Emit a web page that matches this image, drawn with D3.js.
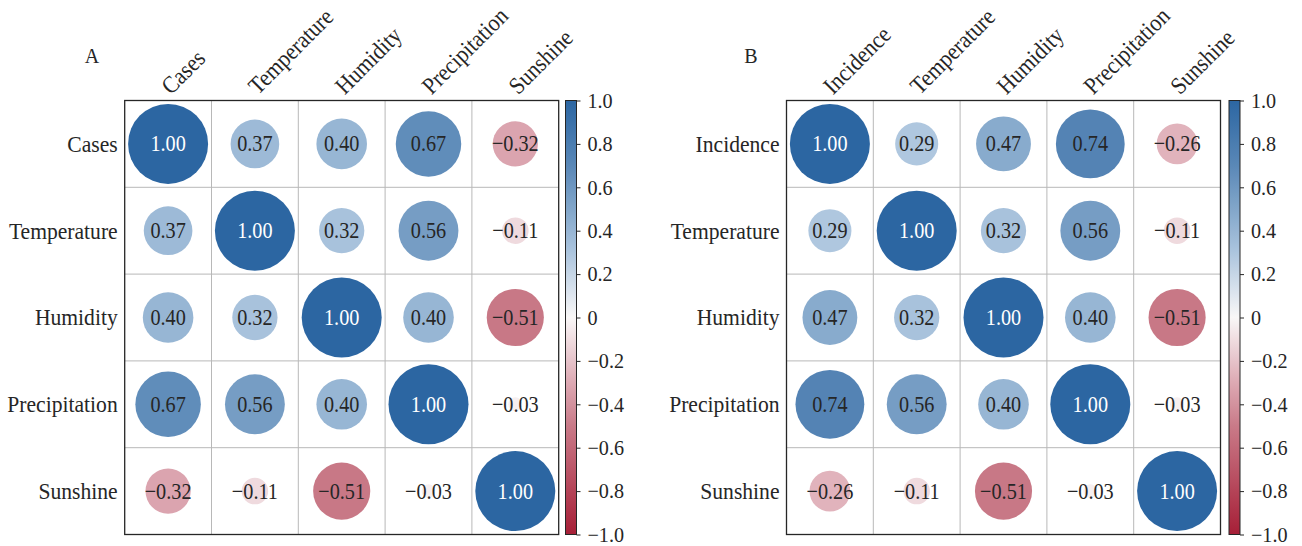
<!DOCTYPE html>
<html lang="en">
<head>
<meta charset="UTF-8">
<title>Correlation matrices</title>
<style>
    body { margin: 0; background: #fff; }
    svg text { font-family: "Liberation Serif", "Times New Roman", serif; fill: #262626; }
</style>
</head>
<body>
<div id="content"></div>
<script src="https://d3js.org/d3.v7.min.js"></script>
<script>
    // variables shown on the axes of each panel
    var labelsA = ["Cases", "Temperature", "Humidity", "Precipitation", "Sunshine"];
    var labelsB = ["Incidence", "Temperature", "Humidity", "Precipitation", "Sunshine"];

    // correlation values, row by row
    var matrixA = [
        [1.00, 0.37, 0.40, 0.67, -0.32],
        [0.37, 1.00, 0.32, 0.56, -0.11],
        [0.40, 0.32, 1.00, 0.40, -0.51],
        [0.67, 0.56, 0.40, 1.00, -0.03],
        [-0.32, -0.11, -0.51, -0.03, 1.00]
    ];
    var matrixB = [
        [1.00, 0.29, 0.47, 0.74, -0.26],
        [0.29, 1.00, 0.32, 0.56, -0.11],
        [0.47, 0.32, 1.00, 0.40, -0.51],
        [0.74, 0.56, 0.40, 1.00, -0.03],
        [-0.26, -0.11, -0.51, -0.03, 1.00]
    ];

    var colorbarTicks = [-1.0, -0.8, -0.6, -0.4, -0.2, 0, 0.2, 0.4, 0.6, 0.8, 1.0];

    var W = 1302, H = 546;
    var svg = d3.select("#content").append("svg")
        .attr("width", W).attr("height", H);

    // diverging red-white-blue colour map
    var color = d3.scaleLinear()
        .domain([-1, -0.5, -0.3, 0, 0.3, 0.5, 0.7, 1])
        .range(["#a61f37", "#c97a88", "#dda9b3", "#f9f7f7", "#acc5de", "#82a6ca", "#5a88b7", "#2c66a2"])
        .interpolate(d3.interpolateRgb);

    var fmtTick = function (d) { return d === 0 ? "0" : d3.format(".1f")(d); };
    var fmtVal = d3.format(".2f");
    var SX = 0.88;  // the reference font is a little narrow
    var LX = 0.9;   // same for the axis labels

    // gradient for the colorbar
    var grad = svg.append("defs").append("linearGradient")
        .attr("id", "cbar").attr("x1", 0).attr("y1", 1).attr("x2", 0).attr("y2", 0);
    d3.range(0, 1.0001, 0.025).forEach(function (t) {
        grad.append("stop").attr("offset", t).attr("stop-color", color(-1 + 2 * t));
    });

    function drawPanel(opts) {
        var left = opts.left, top = 100.5, size = 434;
        var labels = opts.labels, matrix = opts.matrix;

        var x = d3.scaleBand().domain(d3.range(labels.length)).range([left, left + size]);
        var y = d3.scaleBand().domain(d3.range(labels.length)).range([top, top + size]);
        var r = d3.scaleSqrt().domain([0, 1]).range([0, 40]);

        var g = svg.append("g");

        // grid lines
        g.selectAll(".vline").data(d3.range(1, labels.length)).enter()
            .append("line")
            .attr("x1", function (d) { return x(d); }).attr("x2", function (d) { return x(d); })
            .attr("y1", top).attr("y2", top + size)
            .attr("stroke", "#b8b8b8").attr("stroke-width", 1);
        g.selectAll(".hline").data(d3.range(1, labels.length)).enter()
            .append("line")
            .attr("y1", function (d) { return y(d); }).attr("y2", function (d) { return y(d); })
            .attr("x1", left).attr("x2", left + size)
            .attr("stroke", "#b8b8b8").attr("stroke-width", 1);

        var cells = [];
        matrix.forEach(function (row, i) {
            row.forEach(function (v, j) { cells.push({ i: i, j: j, v: v }); });
        });

        var cell = g.selectAll(".cell").data(cells).enter().append("g")
            .attr("transform", function (d) {
                return "translate(" + (x(d.j) + x.bandwidth() / 2) + "," + (y(d.i) + y.bandwidth() / 2) + ")";
            });

        cell.append("circle")
            .attr("r", function (d) { return r(Math.abs(d.v)); })
            .attr("fill", function (d) { return color(d.v); });

        cell.append("text")
            .attr("transform", "scale(" + SX + ",1)")
            .attr("text-anchor", "middle")
            .attr("dominant-baseline", "central")
            .style("font-size", "23px")
            .style("fill", function (d) { return Math.abs(d.v) > 0.8 ? "#ffffff" : "#262626"; })
            .text(function (d) { return fmtVal(d.v).replace("-", "\u2212"); });

        // frame
        g.append("rect")
            .attr("x", left).attr("y", top).attr("width", size).attr("height", size)
            .attr("fill", "none").attr("stroke", "#262626").attr("stroke-width", 1.3);

        // row labels
        g.selectAll(".rowlab").data(labels).enter().append("text")
            .attr("transform", function (d, i) {
                return "translate(" + (left - 7) + "," + (y(i) + y.bandwidth() / 2) + ") scale(" + LX + ",1)";
            })
            .attr("text-anchor", "end")
            .attr("dominant-baseline", "central")
            .style("font-size", "24px")
            .text(function (d) { return d; });

        // column labels, rotated
        g.selectAll(".collab").data(labels).enter().append("text")
            .attr("transform", function (d, i) {
                return "translate(" + (x(i) + x.bandwidth() / 2 + 3) + "," + (top - 5) + ") rotate(-45) scale(" + LX + ",1)";
            })
            .attr("text-anchor", "start")
            .style("font-size", "24px")
            .text(function (d) { return d; });

        // panel letter
        g.append("text")
            .attr("x", opts.letterX).attr("y", 63)
            .attr("text-anchor", "middle")
            .style("font-size", "20px")
            .text(opts.letter);

        // colorbar
        var cbX = opts.cbX, cbW = 11;
        var cy = d3.scaleLinear().domain([-1, 1]).range([top + size, top]);
        g.append("rect")
            .attr("x", cbX).attr("y", top).attr("width", cbW).attr("height", size)
            .attr("fill", "url(#cbar)")
            .attr("stroke", "#262626").attr("stroke-width", 1);

        var ax = g.append("g")
            .attr("transform", "translate(" + (cbX + cbW) + ",0)")
            .call(d3.axisRight(cy).tickValues(colorbarTicks).tickFormat(fmtTick).tickSize(4).tickPadding(7));
        ax.select(".domain").remove();
        ax.selectAll(".tick line").attr("stroke", "#262626");
        ax.selectAll(".tick text")
            .attr("fill", "#262626")
            .style("font-size", "21px")
            .style("font-family", "'Liberation Serif', 'Times New Roman', serif")
            .attr("transform", function () {
                var tx = +d3.select(this).attr("x");
                return "translate(" + tx + ",0) scale(0.96,1) translate(" + (-tx) + ",0)";
            });
    }

    drawPanel({ left: 124.7, labels: labelsA, matrix: matrixA, letter: "A", letterX: 92, cbX: 565.5 });
    drawPanel({ left: 786.5, labels: labelsB, matrix: matrixB, letter: "B", letterX: 751, cbX: 1229 });
</script>
</body>
</html>
